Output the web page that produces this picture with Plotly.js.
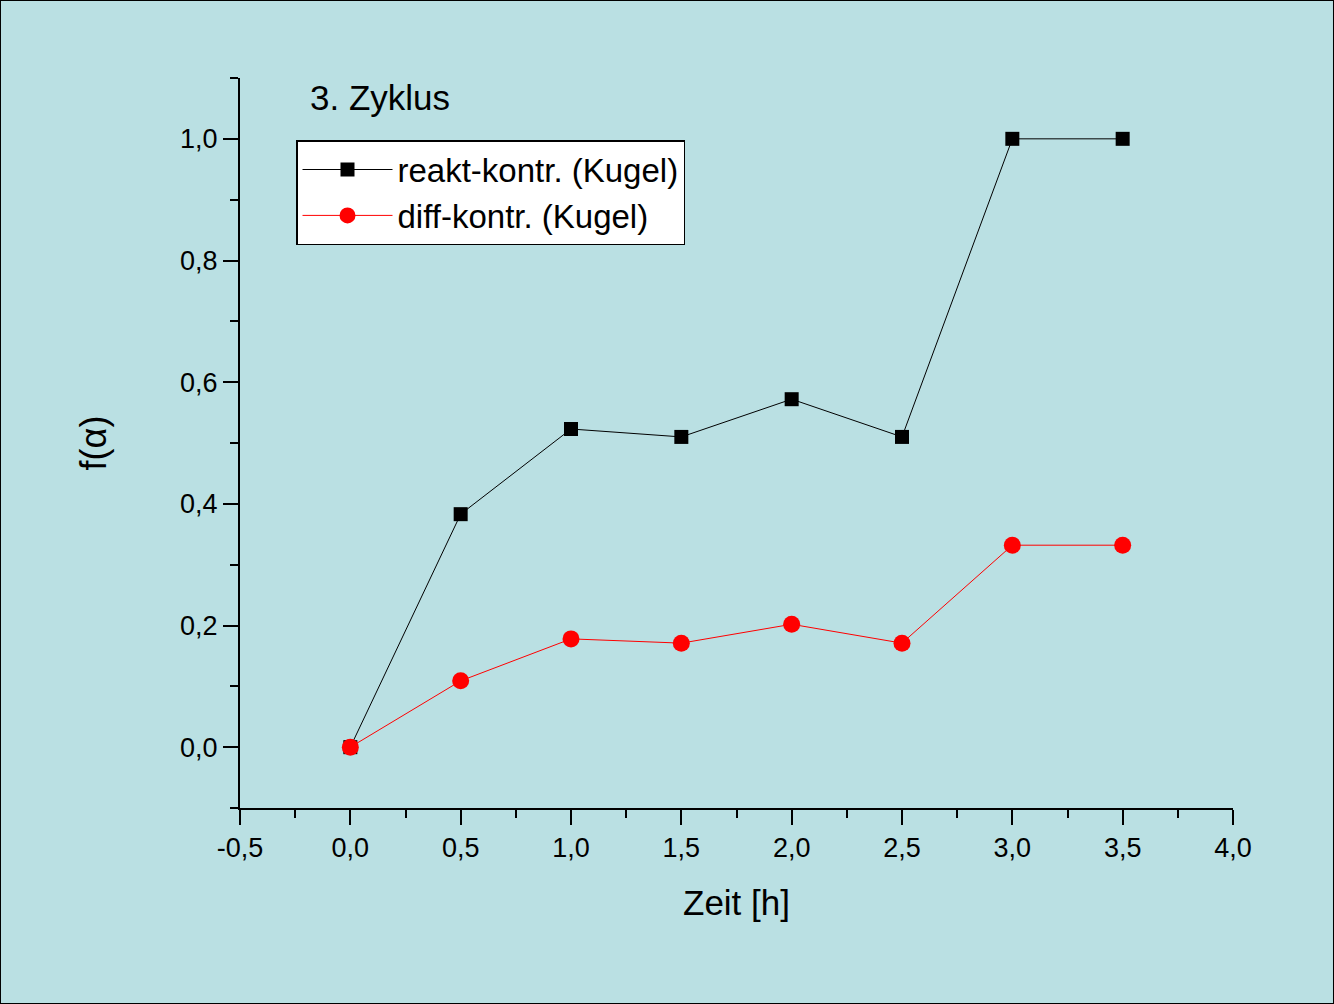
<!DOCTYPE html>
<html>
<head>
<meta charset="utf-8">
<script src="https://cdn.plot.ly/plotly-3.0.1.min.js"></script>
<style>html,body{margin:0;padding:0;background:#BAE0E3;}</style>
</head>
<body>
<div id="chart" style="width:1334px;height:1004px;"></div>
<script>
const zeit = [0.0, 0.5, 1.0, 1.5, 2.0, 2.5, 3.0, 3.5];
const reaktKontr = [0.0, 0.383, 0.523, 0.510, 0.572, 0.510, 1.0, 1.0];
const diffKontr = [0.0, 0.109, 0.178, 0.171, 0.202, 0.171, 0.332, 0.332];
const seriesNames = ["reakt-kontr. (Kugel)", "diff-kontr. (Kugel)"];
const panelLabel = "3. Zyklus";
const xTickVals = [-0.5, 0.0, 0.5, 1.0, 1.5, 2.0, 2.5, 3.0, 3.5, 4.0];
const xTickText = ["-0,5", "0,0", "0,5", "1,0", "1,5", "2,0", "2,5", "3,0", "3,5", "4,0"];

const bg = "#BAE0E3";
const traces = [
  {x: zeit, y: reaktKontr, name: seriesNames[0], type: "scatter", mode: "lines+markers",
   line: {color: "#000000", width: 1},
   marker: {symbol: "square", size: 14, color: "#000000"}},
  {x: zeit, y: diffKontr, name: seriesNames[1], type: "scatter", mode: "lines+markers",
   line: {color: "#FF0000", width: 1},
   marker: {symbol: "circle", size: 17, color: "#FF0000"}}
];
const font = "Liberation Sans, Arial, sans-serif";
const layout = {
  width: 1334, height: 1004,
  paper_bgcolor: bg, plot_bgcolor: bg,
  separators: ", ",
  margin: {l: 240, r: 101, t: 78, b: 196},
  font: {family: font, color: "#000", size: 27},
  showlegend: true,
  legend: {x: 0.0564, y: 0.915, xanchor: "left", yanchor: "top",
    bgcolor: "#FFFFFF", bordercolor: "#000000", borderwidth: 1.5,
    font: {size: 33, family: font}, itemwidth: 90, tracegroupgap: 0},
  xaxis: {range: [-0.5, 4.0], tickmode: "array", tickvals: xTickVals, ticktext: xTickText,
    showgrid: false, zeroline: false, showline: true, linewidth: 2, linecolor: "#000",
    ticks: "outside", ticklen: 15, tickwidth: 2, tickcolor: "#000",
    minor: {dtick: 0.25, tick0: 0, ticks: "outside", ticklen: 8, tickwidth: 2, tickcolor: "#000"},
    tickfont: {size: 27}, title: {text: "Zeit [h]", font: {size: 35}, standoff: 28}},
  yaxis: {range: [-0.1, 1.1], dtick: 0.2, tick0: 0, tickformat: ".1f",
    showgrid: false, zeroline: false, showline: true, linewidth: 2, linecolor: "#000",
    ticks: "outside", ticklen: 15, tickwidth: 2, tickcolor: "#000",
    minor: {dtick: 0.1, ticks: "outside", ticklen: 8, tickwidth: 2, tickcolor: "#000"},
    tickfont: {size: 27}, title: {text: "f(α)", font: {size: 36}, standoff: 62}},
  annotations: [{text: panelLabel, xref: "paper", yref: "paper", x: 0.068, y: 0.973,
    xanchor: "left", yanchor: "middle", showarrow: false, font: {size: 35}}],
  shapes: [{type: "rect", xref: "paper", yref: "paper", x0: -0.2417, x1: 1.1017, y0: -0.2685, y1: 1.1068,
    line: {color: "#000", width: 2}}]
};
Plotly.newPlot("chart", traces, layout, {displayModeBar: false});
</script>
</body>
</html>
